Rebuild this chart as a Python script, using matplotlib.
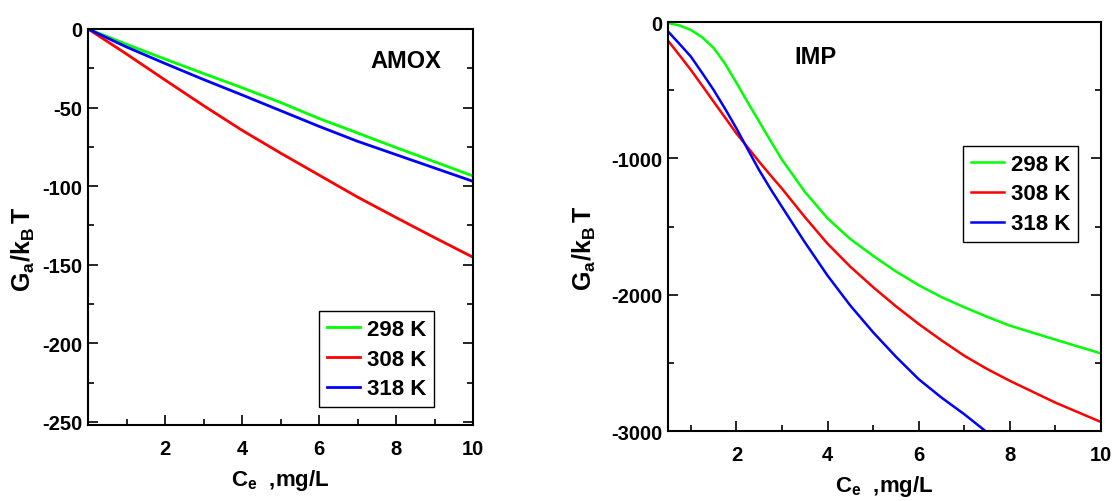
import numpy as np
import matplotlib
matplotlib.use('Agg')
import matplotlib.pyplot as plt
from matplotlib.ticker import MultipleLocator, FixedLocator

plt.rcParams['font.family'] = ['Liberation Sans', 'DejaVu Sans']
plt.rcParams['font.weight'] = 'bold'
plt.rcParams['axes.unicode_minus'] = False
plt.rcParams['mathtext.fontset'] = 'custom'
plt.rcParams['mathtext.rm'] = 'Liberation Sans:bold'
plt.rcParams['mathtext.it'] = 'Liberation Sans:bold'
plt.rcParams['mathtext.bf'] = 'Liberation Sans:bold'

labels = ['298 K', '308 K', '318 K']
colors = ['#00ff00', '#ff0000', '#0000ff']

# AMOX
amox_x = [0, 1, 2, 3, 4, 5, 6, 7, 8, 9, 10]
amox_298 = [0, -9.8, -19.2, -28.4, -37.4, -46.8, -57.0, -66.2, -75.5, -84.5, -93.6]
amox_308 = [0, -16.0, -32.5, -48.8, -64.5, -79.0, -93.0, -107.0, -120.0, -132.8, -145.3]
amox_318 = [0, -11.5, -22.0, -32.2, -42.0, -52.0, -62.0, -71.5, -80.0, -88.5, -97.0]

# IMP
imp_x = [0.5, 0.75, 1, 1.25, 1.5, 1.75, 2, 2.25, 2.5, 2.75, 3, 3.5, 4, 4.5, 5, 5.5, 6, 6.5, 7, 7.5, 8, 9, 10]
imp_298 = [-7, -25, -58, -112, -190, -305, -445, -590, -731, -872, -1010, -1245, -1440, -1592, -1715, -1830, -1930, -2018, -2092, -2162, -2227, -2330, -2431]
imp_308 = [-137, -243, -351, -467, -584, -700, -817, -920, -1025, -1125, -1222, -1430, -1626, -1795, -1945, -2085, -2215, -2335, -2448, -2545, -2632, -2792, -2934]
imp_318 = [-69, -160, -253, -374, -498, -635, -780, -935, -1087, -1225, -1356, -1615, -1860, -2080, -2276, -2455, -2620, -2755, -2877, -3010, -3130, -3330, -3500]

fig = plt.figure(figsize=(11.16, 5.02), dpi=100)
ax1 = fig.add_axes([0.0789, 0.1514, 0.345, 0.789])
ax2 = fig.add_axes([0.5986, 0.1394, 0.388, 0.8147])

for ys, c, lab in zip([amox_298, amox_308, amox_318], colors, labels):
    ax1.plot(amox_x, ys, color=c, lw=2.0, label=lab)
for ys, c, lab in zip([imp_298, imp_308, imp_318], colors, labels):
    ax2.plot(imp_x, ys, color=c, lw=1.8, label=lab)

ax1.set_xlim(0, 10)
ax1.set_ylim(-252, 0)
ax1.xaxis.set_major_locator(FixedLocator([2, 4, 6, 8, 10]))
ax1.xaxis.set_minor_locator(FixedLocator([1, 3, 5, 7, 9]))
ax1.yaxis.set_major_locator(MultipleLocator(50))
ax1.yaxis.set_minor_locator(MultipleLocator(25))

ax2.set_xlim(0.5, 10)
ax2.set_ylim(-3000, 0)
ax2.xaxis.set_major_locator(FixedLocator([2, 4, 6, 8, 10]))
ax2.xaxis.set_minor_locator(FixedLocator([1, 3, 5, 7, 9]))
ax2.yaxis.set_major_locator(MultipleLocator(1000))
ax2.yaxis.set_minor_locator(MultipleLocator(500))

for ax in (ax1, ax2):
    ax.tick_params(which='both', direction='in', right=True, labelsize=14.5, width=1.2)
    ax.tick_params(which='major', length=7)
    ax.tick_params(which='minor', length=4)
    ax.tick_params(axis='y', which='major', pad=4)
    ax.tick_params(axis='x', which='major', pad=10)
    for s in ax.spines.values():
        s.set_linewidth(1.5)
    ax.set_xlabel(r'$\mathbf{C_e}$  ,mg/L', fontsize=16, fontweight='bold')
    ax.set_ylabel(r'$\mathbf{G_a/k_B\,T}$', fontsize=18, fontweight='bold')

ax1.xaxis.set_label_coords(0.5, -0.106)
ax1.yaxis.set_label_coords(-0.132, 0.447)
ax2.xaxis.set_label_coords(0.5, -0.103)
ax2.yaxis.set_label_coords(-0.162, 0.45)

ax1.text(0.825, 0.92, 'AMOX', transform=ax1.transAxes, ha='center', va='center',
         fontsize=17, fontweight='bold')
ax2.text(0.34, 0.915, 'IMP', transform=ax2.transAxes, ha='center', va='center',
         fontsize=17, fontweight='bold')

leg_kw = dict(loc='lower left', fontsize=16, frameon=True, fancybox=False,
              edgecolor='black', framealpha=1, handlelength=1.5, handletextpad=0.3,
              borderaxespad=0, borderpad=0.35, labelspacing=0.4)
l1 = ax1.legend(bbox_to_anchor=(0.6, 0.045), **leg_kw)
l2 = ax2.legend(bbox_to_anchor=(0.681, 0.462), **leg_kw)
for l in (l1, l2):
    l.get_frame().set_linewidth(1.0)

fig.savefig('out.png', dpi=100)
